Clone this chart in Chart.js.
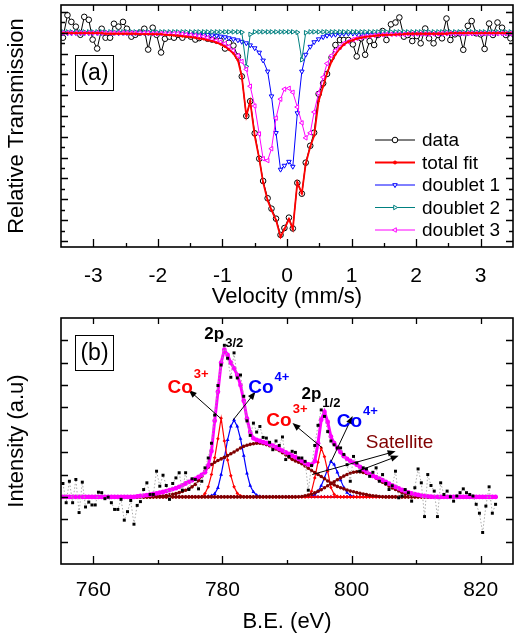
<!DOCTYPE html>
<html>
<head>
<meta charset="utf-8">
<script src="https://cdn.jsdelivr.net/npm/chart.js@4"></script>
<style>
  html, body { margin: 0; padding: 0; background: #fff; }
  #wrap { position: relative; width: 530px; height: 642px; }
  #mossChart { position: absolute; left: 0; top: 0; }
  #xpsChart { position: absolute; left: 0; top: 310px; }
</style>
</head>
<body>
<div id="wrap">
  <canvas id="mossChart" width="530" height="310"></canvas>
  <canvas id="xpsChart" width="530" height="332"></canvas>
</div>
<script>
// ---------- panel (a): Mossbauer spectrum ----------
const velocity = [
  -3.47,-3.40,-3.34,-3.27,-3.20,-3.14,-3.07,-3.01,-2.94,-2.87,
  -2.81,-2.74,-2.68,-2.61,-2.54,-2.48,-2.41,-2.35,-2.28,-2.21,
  -2.15,-2.08,-2.02,-1.95,-1.89,-1.82,-1.75,-1.69,-1.62,-1.56,
  -1.49,-1.42,-1.36,-1.29,-1.23,-1.16,-1.09,-1.03,-0.96,-0.90,
  -0.83,-0.76,-0.70,-0.63,-0.57,-0.50,-0.43,-0.37,-0.30,-0.24,
  -0.17,-0.10,-0.04,0.03,0.09,0.16,0.23,0.29,0.36,0.42,
  0.49,0.56,0.62,0.69,0.75,0.82,0.88,0.95,1.02,1.08,
  1.15,1.21,1.28,1.35,1.41,1.48,1.54,1.61,1.68,1.74,
  1.81,1.87,1.94,2.01,2.07,2.14,2.20,2.27,2.34,2.40,
  2.47,2.53,2.60,2.67,2.73,2.80,2.86,2.93,3.00,3.06,
  3.13,3.19,3.26,3.33,3.39,3.46
];
const transData = [
  0.9976,1.0084,1.0052,1.0029,0.9990,1.0076,1.0062,0.9967,0.9924,1.0019,
  0.9976,0.9976,1.0043,1.0029,1.0052,1.0019,0.9981,0.9990,1.0000,1.0019,
  0.9919,1.0024,0.9990,0.9905,0.9971,0.9981,0.9976,0.9990,0.9976,0.9990,
  0.9981,0.9967,0.9974,0.9986,0.9971,0.9967,0.9962,0.9962,0.9924,0.9952,
  0.9938,0.9886,0.9790,0.9600,0.9671,0.9517,0.9395,0.9288,0.9205,0.9155,
  0.9107,0.9029,0.9062,0.9112,0.9060,0.9279,0.9227,0.9376,0.9457,0.9520,
  0.9706,0.9757,0.9802,0.9881,0.9941,0.9965,0.9965,0.9965,0.9944,0.9886,
  0.9973,0.9894,0.9960,0.9941,0.9989,1.0008,0.9965,1.0040,1.0049,1.0073,
  0.9981,0.9989,0.9960,0.9984,0.9949,1.0020,0.9973,0.9949,0.9989,0.9973,
  1.0068,0.9965,0.9992,0.9997,0.9918,1.0033,1.0056,0.9997,0.9992,0.9922,
  1.0044,0.9989,1.0049,1.0024,0.9989,0.9973
];
const totalFit = [
  0.9998,0.9998,0.9998,0.9998,0.9998,0.9998,0.9998,0.9998,0.9998,0.9998,
  0.9995,0.9995,0.9995,0.9995,0.9995,0.9995,0.9995,0.9995,0.9993,0.9993,
  0.9993,0.9993,0.9993,0.9993,0.9990,0.9989,0.9987,0.9986,0.9983,0.9981,
  0.9979,0.9976,0.9972,0.9969,0.9964,0.9960,0.9952,0.9945,0.9933,0.9919,
  0.9900,0.9867,0.9790,0.9600,0.9671,0.9505,0.9395,0.9281,0.9195,0.9148,
  0.9100,0.9019,0.9057,0.9105,0.9057,0.9281,0.9229,0.9371,0.9452,0.9505,
  0.9671,0.9743,0.9805,0.9862,0.9895,0.9924,0.9943,0.9957,0.9964,0.9971,
  0.9976,0.9980,0.9982,0.9985,0.9987,0.9989,0.9990,0.9990,0.9991,0.9992,
  0.9993,0.9995,0.9995,0.9995,0.9995,0.9995,0.9995,0.9995,0.9995,0.9995,
  0.9995,0.9998,0.9998,0.9998,0.9998,0.9998,0.9998,0.9998,0.9998,0.9998,
  0.9998,0.9998,0.9998,0.9998,0.9998,0.9998
];
const doublet1 = [
  0.9999,0.9999,0.9999,0.9999,0.9999,0.9999,0.9999,0.9999,0.9999,0.9999,
  0.9999,0.9999,0.9999,0.9999,0.9999,0.9999,0.9999,0.9999,0.9999,0.9999,
  0.9999,0.9999,0.9999,0.9999,0.9999,0.9999,0.9998,0.9998,0.9998,0.9998,
  0.9998,0.9995,0.9994,0.9992,0.9990,0.9988,0.9986,0.9982,0.9979,0.9974,
  0.9969,0.9964,0.9957,0.9950,0.9940,0.9926,0.9905,0.9867,0.9814,0.9695,
  0.9519,0.9343,0.9362,0.9381,0.9357,0.9614,0.9814,0.9895,0.9933,0.9955,
  0.9969,0.9979,0.9986,0.9989,0.9991,0.9993,0.9995,0.9996,0.9996,0.9996,
  0.9996,0.9996,0.9996,0.9996,0.9996,0.9996,0.9998,0.9998,0.9998,0.9998,
  0.9998,0.9998,0.9998,0.9998,0.9998,0.9998,0.9998,0.9998,0.9998,0.9998,
  0.9998,0.9998,0.9998,0.9998,0.9998,0.9998,0.9998,0.9998,0.9998,0.9998,
  0.9998,0.9998,0.9998,0.9998,0.9998,0.9998
];
const doublet2 = [
  1.0004,1.0004,1.0004,1.0004,1.0004,1.0004,1.0004,1.0004,1.0004,1.0004,
  1.0004,1.0004,1.0004,1.0004,1.0004,1.0004,1.0004,1.0004,1.0004,1.0004,
  1.0004,1.0004,1.0004,1.0004,1.0004,1.0004,1.0004,1.0004,1.0004,1.0004,
  1.0004,1.0004,1.0004,1.0004,1.0004,1.0004,1.0004,1.0004,1.0004,1.0004,
  1.0004,1.0004,1.0002,0.9838,0.9992,1.0004,1.0004,1.0004,1.0004,1.0004,
  1.0004,1.0004,1.0004,1.0004,1.0004,1.0002,0.9870,1.0000,1.0004,1.0004,
  1.0004,1.0004,1.0004,1.0004,1.0004,1.0004,1.0004,1.0004,1.0004,1.0004,
  1.0004,1.0004,1.0004,1.0004,1.0004,1.0004,1.0004,1.0004,1.0004,1.0004,
  1.0004,1.0004,1.0004,1.0004,1.0004,1.0004,1.0004,1.0004,1.0004,1.0004,
  1.0004,1.0004,1.0004,1.0004,1.0004,1.0004,1.0004,1.0004,1.0004,1.0004,
  1.0004,1.0004,1.0004,1.0004,1.0004,1.0004
];
const doublet3 = [
  0.9999,0.9999,0.9999,0.9999,0.9999,0.9999,0.9999,0.9999,0.9999,0.9999,
  0.9999,0.9999,0.9999,0.9999,0.9999,0.9999,0.9999,0.9999,0.9999,0.9999,
  0.9999,0.9996,0.9996,0.9996,0.9996,0.9996,0.9996,0.9996,0.9994,0.9991,
  0.9989,0.9987,0.9984,0.9981,0.9976,0.9969,0.9962,0.9955,0.9948,0.9933,
  0.9914,0.9890,0.9862,0.9824,0.9743,0.9648,0.9514,0.9395,0.9386,0.9443,
  0.9590,0.9681,0.9729,0.9733,0.9714,0.9643,0.9567,0.9495,0.9519,0.9619,
  0.9710,0.9786,0.9852,0.9890,0.9914,0.9931,0.9948,0.9957,0.9967,0.9973,
  0.9977,0.9981,0.9984,0.9987,0.9989,0.9990,0.9992,0.9992,0.9992,0.9992,
  0.9992,0.9994,0.9994,0.9994,0.9994,0.9994,0.9994,0.9994,0.9994,0.9996,
  0.9996,0.9996,0.9996,0.9996,0.9996,0.9996,0.9996,0.9996,0.9996,0.9996,
  0.9996,0.9996,0.9996,0.9996,0.9996,0.9996
];
const velTicks = [-3.5, -3, -2.5, -2, -1.5, -1, -0.5, 0, 0.5, 1, 1.5, 2, 2.5, 3, 3.5];

// ---------- panel (b): Co 2p XPS ----------
const bindingEnergy = [
  755.3,755.8,756.3,756.8,757.3,757.8,758.3,758.8,759.3,759.8,
  760.3,760.8,761.3,761.8,762.3,762.8,763.3,763.8,764.3,764.8,
  765.3,765.8,766.3,766.8,767.3,767.8,768.3,768.8,769.3,769.8,
  770.3,770.8,771.3,771.8,772.3,772.8,773.3,773.8,774.3,774.8,
  775.3,775.8,776.3,776.8,777.3,777.8,778.3,778.8,779.3,779.8,
  780.3,780.8,781.3,781.8,782.3,782.8,783.3,783.8,784.3,784.8,
  785.3,785.8,786.3,786.8,787.3,787.8,788.3,788.8,789.3,789.8,
  790.3,790.8,791.3,791.8,792.3,792.8,793.3,793.8,794.3,794.8,
  795.3,795.8,796.3,796.8,797.3,797.8,798.3,798.8,799.3,799.8,
  800.3,800.8,801.3,801.8,802.3,802.8,803.3,803.8,804.3,804.8,
  805.3,805.8,806.3,806.8,807.3,807.8,808.3,808.8,809.3,809.8,
  810.3,810.8,811.3,811.8,812.3,812.8,813.3,813.8,814.3,814.8,
  815.3,815.8,816.3,816.8,817.3,817.8,818.3,818.8,819.3,819.8,
  820.3,820.8,821.3,821.8,822.3
];
const intensity = [
  0.60,-0.26,0.70,-0.26,0.78,-0.70,0.66,-0.45,-0.23,-0.36,
  -0.36,0.21,0.19,-0.08,-0.01,-0.26,-0.56,-0.56,-0.11,-1.04,
  -0.66,-0.16,-1.22,-0.38,-0.21,0.33,0.63,0.11,0.11,1.15,
  0.48,0.97,0.51,-0.11,0.60,0.85,1.08,0.30,1.08,0.33,
  0.81,0.78,0.36,0.70,1.30,1.74,2.40,3.66,4.98,5.90,
  6.78,6.20,5.35,6.44,5.32,5.45,4.50,3.40,2.75,3.30,
  2.90,3.15,2.66,2.63,2.44,2.11,2.50,2.30,2.68,1.67,
  1.81,2.04,1.99,1.74,1.74,1.59,0.30,1.40,2.30,3.20,
  3.89,3.60,2.92,2.50,2.33,2.19,2.19,1.90,1.44,0.70,
  1.81,1.52,1.15,1.30,1.25,0.92,1.10,1.30,0.70,1.00,
  0.60,0.33,0.50,1.15,-0.04,0.04,0.33,0.19,-0.19,0.41,
  1.25,0.63,-0.88,1.00,0.51,0.26,-0.88,0.63,0.11,0.26,
  0.01,-0.19,0.04,0.19,0.36,0.19,0.11,0.04,-0.33,-0.73,
  -1.59,-0.41,0.45,-0.73,-0.33
];
const envelope = [
  0,0,0,0,0,0,0,0,0,0,
  0,0,0,0,0,0,0,0,0,0,
  0,0,0,0.02,0.04,0.06,0.08,0.10,0.13,0.16,
  0.19,0.22,0.26,0.30,0.35,0.39,0.45,0.52,0.60,0.67,
  0.74,0.81,0.89,0.98,1.10,1.40,2.05,3.40,4.70,6.00,
  6.58,6.35,6.00,5.75,5.45,5.00,4.30,3.50,2.90,2.62,
  2.55,2.50,2.45,2.41,2.35,2.29,2.22,2.14,2.07,1.99,
  1.92,1.85,1.78,1.70,1.61,1.51,1.45,1.44,1.60,2.40,
  3.45,3.80,3.35,2.70,2.40,2.19,2.00,1.82,1.70,1.61,
  1.53,1.44,1.34,1.23,1.12,1.02,0.94,0.88,0.82,0.75,
  0.67,0.59,0.52,0.45,0.38,0.31,0.25,0.20,0.16,0.12,
  0.09,0.06,0.04,0.02,0.01,0,0,0,0,0,
  0,0,0,0,0,0,0,0,0,0,
  0,0,0,0,0
];
// fitted components: first energy on the 0.5 eV grid, then the values
const co3p32Start = 776.8;
const co3p32 = [0.01,0.15,0.45,1.00,1.75,2.60,3.52,2.50,1.65,0.95,0.45,0.16,0.05,0.01];
const co4p32Start = 777.8;
const co4p32 = [0.02,0.05,0.14,0.40,1.00,1.75,2.55,3.15,3.44,3.15,2.60,1.85,1.05,0.50,0.22,0.08,0.02];
const co3p12Start = 793.3;
const co3p12 = [0.03,0.25,0.85,1.55,2.19,1.80,1.15,0.42,0.12,0.03];
const co4p12Start = 793.8;
const co4p12 = [0.03,0.10,0.25,0.50,0.85,1.25,1.59,1.45,1.10,0.75,0.42,0.19,0.07,0.02];
const sat1Start = 769.3;
const sat1 = [
  0.01,0.02,0.02,0.04,0.06,0.09,0.12,0.15,0.19,0.24,
  0.30,0.37,0.45,0.56,0.73,0.92,1.15,1.33,1.45,1.55,
  1.63,1.70,1.77,1.85,1.93,2.01,2.10,2.19,2.26,2.31,
  2.35,2.38,2.40,2.40,2.38,2.34,2.29,2.22,2.14,2.07,
  1.98,1.88,1.78,1.68,1.61,1.55,1.48,1.38,1.28,1.18,
  1.09,1.00,0.91,0.81,0.71,0.62,0.54,0.47,0.41,0.36,
  0.31,0.26,0.23,0.19,0.16,0.13,0.10,0.07,0.05,0.04,
  0.02,0.01
];
const sat2Start = 791.8;
const sat2 = [
  0.01,0.02,0.05,0.08,0.12,0.18,0.25,0.32,0.41,0.50,
  0.59,0.68,0.77,0.85,0.93,1.00,1.06,1.10,1.12,1.12,
  1.09,1.05,0.99,0.92,0.84,0.75,0.66,0.57,0.48,0.40,
  0.33,0.26,0.20,0.15,0.11,0.08,0.05,0.03,0.02,0.01
];
const beTicks = [760, 770, 780, 790, 800, 810, 820];

// annotations of panel (b), in data units
const xpsLabels = [
  { be: 777.2, val: 7.04, text: '2p', small: '3/2', dy: 8, color: '#000', size: 17 },
  { be: 771.5, val: 4.64, text: 'Co', small: '3+', dy: -15, color: '#ff0000', size: 19 },
  { be: 784.0, val: 4.64, text: 'Co', small: '4+', dy: -12, color: '#0000ff', size: 19 },
  { be: 786.8, val: 3.18, text: 'Co', small: '3+', dy: -13, color: '#ff0000', size: 19 },
  { be: 792.25, val: 4.38, text: '2p', small: '1/2', dy: 8, color: '#000', size: 17 },
  { be: 797.7, val: 3.13, text: 'Co', small: '4+', dy: -12, color: '#0000ff', size: 19 },
  { be: 802.2, val: 2.2, text: 'Satellite', small: '', dy: 0, color: '#800000', size: 19, normal: true }
];
const xpsArrows = [
  [779.69, 3.52, 774.78, 4.78],
  [781.66, 3.44, 785.12, 4.70],
  [795.46, 2.19, 790.85, 3.30],
  [796.85, 1.59, 800.16, 3.62],
  [793.91, 1.00, 806.82, 2.04],
  [800.78, 1.13, 807.29, 1.84]
];

const FONT = 'Arial, "Liberation Sans", sans-serif';
Chart.defaults.font.family = FONT;
Chart.defaults.color = '#000';
Chart.defaults.animation = false;

const pts = (xs, ys) => xs.map((x, i) => ({ x: x, y: ys[i] }));
function onGrid(start, vals) {
  return bindingEnergy.map(e => {
    const i = Math.round((e - start) / 0.5);
    return i >= 0 && i < vals.length ? vals[i] : 0;
  });
}

// frame with inward ticks on all four sides
function frame(opts) {
  return {
    id: 'frame',
    afterDatasetsDraw(chart) {
      const { ctx, chartArea: a, scales: { x, y } } = chart;
      ctx.save();
      ctx.strokeStyle = '#000';
      ctx.lineWidth = 1.3;
      ctx.beginPath();
      x.ticks.forEach(t => {
        const p = Math.round(x.getPixelForValue(t.value)) + 0.5;
        if (p <= a.left + 2 || p >= a.right - 2) return;
        const len = opts.xMajor(t.value) ? 8 : 4;
        ctx.moveTo(p, a.bottom); ctx.lineTo(p, a.bottom - len);
        ctx.moveTo(p, a.top); ctx.lineTo(p, a.top + 6);
      });
      y.ticks.forEach(t => {
        const p = Math.round(y.getPixelForValue(t.value)) + 0.5;
        if (p <= a.top + 2 || p >= a.bottom - 2) return;
        const len = opts.yMajor(t.value) ? 7 : 4;
        ctx.moveTo(a.left, p); ctx.lineTo(a.left + len, p);
        ctx.moveTo(a.right, p); ctx.lineTo(a.right - len, p);
      });
      ctx.stroke();
      ctx.lineWidth = 1.6;
      ctx.strokeRect(a.left, a.top, a.right - a.left, a.bottom - a.top);
      ctx.restore();
      if (opts.extra) opts.extra(chart);
    }
  };
}

function panelTag(ctx, a, text, dy) {
  ctx.save();
  ctx.strokeStyle = '#000';
  ctx.lineWidth = 1;
  ctx.strokeRect(a.left + 14.5, a.top + dy + 0.5, 38, 35);
  ctx.fillStyle = '#000';
  ctx.font = '23px ' + FONT;
  ctx.textAlign = 'center';
  ctx.textBaseline = 'middle';
  ctx.fillText(text, a.left + 33.5, a.top + dy + 19);
  ctx.restore();
}

function arrow(ctx, x1, y1, x2, y2) {
  const ang = Math.atan2(y2 - y1, x2 - x1);
  const L = 8, W = 3.2;
  const c = Math.cos(ang), s = Math.sin(ang);
  ctx.beginPath();
  ctx.moveTo(x1, y1);
  ctx.lineTo(x2 - L * 0.7 * c, y2 - L * 0.7 * s);
  ctx.stroke();
  ctx.beginPath();
  ctx.moveTo(x2, y2);
  ctx.lineTo(x2 - L * c + W * s, y2 - L * s - W * c);
  ctx.lineTo(x2 - L * c - W * s, y2 - L * s + W * c);
  ctx.closePath();
  ctx.fill();
}

// ---------- chart (a) ----------
const mossDatasets = [
  { label: 'data', data: pts(velocity, transData), borderColor: '#000', borderWidth: 1,
    pointStyle: 'circle', pointRadius: 2.8, pointBackgroundColor: '#fff',
    pointBorderColor: '#000', pointBorderWidth: 1, order: 4 },
  { label: 'total fit', data: pts(velocity, totalFit), borderColor: '#ff0000', borderWidth: 1.8,
    pointStyle: 'circle', pointRadius: 0.9, pointBackgroundColor: '#ff0000',
    pointBorderColor: '#ff0000', pointBorderWidth: 1, order: 0 },
  { label: 'doublet 1', data: pts(velocity, doublet1), borderColor: '#0000ff', borderWidth: 1,
    pointStyle: 'triangle', pointRotation: 180, pointRadius: 2.6, pointBackgroundColor: '#fff',
    pointBorderColor: '#0000ff', pointBorderWidth: 1, order: 3 },
  { label: 'doublet 2', data: pts(velocity, doublet2), borderColor: '#008080', borderWidth: 1,
    pointStyle: 'triangle', pointRotation: 90, pointRadius: 2.6, pointBackgroundColor: '#fff',
    pointBorderColor: '#008080', pointBorderWidth: 1, order: 2 },
  { label: 'doublet 3', data: pts(velocity, doublet3), borderColor: '#ff00ff', borderWidth: 1,
    pointStyle: 'triangle', pointRotation: 270, pointRadius: 2.6, pointBackgroundColor: '#fff',
    pointBorderColor: '#ff00ff', pointBorderWidth: 1, order: 1 }
];

function mossLegend(chart) {
  const { ctx, chartArea: a } = chart;
  ctx.save();
  chart.data.datasets.forEach((ds, i) => {
    const y = 140 + i * 22.5;
    const x0 = a.left + 314, x1 = a.left + 354;
    ctx.strokeStyle = ds.borderColor;
    ctx.lineWidth = ds.borderWidth;
    ctx.beginPath(); ctx.moveTo(x0, y); ctx.lineTo(x1, y); ctx.stroke();
    ctx.fillStyle = ds.pointBackgroundColor;
    ctx.strokeStyle = ds.pointBorderColor;
    ctx.lineWidth = 1;
    Chart.helpers.drawPoint(ctx, {
      pointStyle: ds.pointStyle, rotation: ds.pointRotation || 0,
      radius: Math.max(ds.pointRadius, 1.5), borderWidth: 1
    }, (x0 + x1) / 2, y);
    ctx.fillStyle = '#000';
    ctx.font = '19px ' + FONT;
    ctx.textBaseline = 'middle';
    ctx.fillText(ds.label, x1 + 7, y + 1);
  });
  ctx.restore();
  panelTag(ctx, a, '(a)', 50);
}

new Chart(document.getElementById('mossChart'), {
  type: 'line',
  data: { datasets: mossDatasets },
  options: {
    responsive: false,
    events: [],
    layout: { padding: { top: 3, right: 17, left: 0, bottom: 0 } },
    elements: { line: { tension: 0 } },
    plugins: { legend: { display: false }, tooltip: { enabled: false } },
    scales: {
      x: {
        type: 'linear', min: -3.5, max: 3.5,
        afterBuildTicks: s => { s.ticks = velTicks.map(v => ({ value: v })); },
        afterFit: s => { s.height = 63; },
        grid: { display: false, drawTicks: false },
        border: { display: false },
        ticks: { autoSkip: false, maxRotation: 0, padding: 17, font: { size: 21 },
                 callback: v => Number.isInteger(v) ? String(v) : '' },
        title: { display: true, text: 'Velocity (mm/s)', font: { size: 22 }, padding: { top: 0, bottom: 0 } }
      },
      y: {
        type: 'linear', min: 0.8971, max: 1.0133,
        afterFit: s => { s.width = 61; },
        grid: { display: false, drawTicks: false },
        border: { display: false },
        ticks: { display: false, stepSize: 0.005, includeBounds: false },
        title: { display: true, text: 'Relative Transmission', font: { size: 22 }, padding: { top: 4, bottom: 0 } }
      }
    }
  },
  plugins: [frame({
    xMajor: v => Number.isInteger(v),
    yMajor: v => Math.abs(v * 100 - Math.round(v * 100)) < 1e-6,
    extra: mossLegend
  })]
});

// ---------- chart (b) ----------
const xpsDatasets = [
  { label: 'raw', data: pts(bindingEnergy, intensity), borderColor: '#aaaaaa', borderWidth: 1,
    borderDash: [1.5, 2], pointStyle: 'rect', pointRadius: 2.1, pointBackgroundColor: '#000',
    pointBorderColor: '#000', pointBorderWidth: 0, order: 0 },
  { label: 'envelope', data: pts(bindingEnergy, envelope), borderColor: '#ff00ff', borderWidth: 3,
    pointStyle: 'circle', pointRadius: 2.4, pointBackgroundColor: '#ff00ff',
    pointBorderColor: '#ff00ff', pointBorderWidth: 0, order: 1 },
  { label: 'sat 2p3/2', data: pts(bindingEnergy, onGrid(sat1Start, sat1)), borderColor: '#800000',
    borderWidth: 1.3, pointStyle: 'circle', pointRadius: 1.8, pointBackgroundColor: '#800000',
    pointBorderColor: '#800000', pointBorderWidth: 0, order: 2 },
  { label: 'sat 2p1/2', data: pts(bindingEnergy, onGrid(sat2Start, sat2)), borderColor: '#800000',
    borderWidth: 1.3, pointStyle: 'circle', pointRadius: 1.8, pointBackgroundColor: '#800000',
    pointBorderColor: '#800000', pointBorderWidth: 0, order: 3 },
  { label: 'Co3+ 2p3/2', data: pts(bindingEnergy, onGrid(co3p32Start, co3p32)), borderColor: '#ff0000',
    borderWidth: 1.2, pointStyle: 'rectRot', pointRadius: 1.8, pointBackgroundColor: '#ff0000',
    pointBorderColor: '#ff0000', pointBorderWidth: 0, order: 4 },
  { label: 'Co3+ 2p1/2', data: pts(bindingEnergy, onGrid(co3p12Start, co3p12)), borderColor: '#ff0000',
    borderWidth: 1.2, pointStyle: 'rectRot', pointRadius: 1.8, pointBackgroundColor: '#ff0000',
    pointBorderColor: '#ff0000', pointBorderWidth: 0, order: 5 },
  { label: 'Co4+ 2p3/2', data: pts(bindingEnergy, onGrid(co4p32Start, co4p32)), borderColor: '#0000ff',
    borderWidth: 1.2, pointStyle: 'triangle', pointRadius: 2.2, pointBackgroundColor: '#0000ff',
    pointBorderColor: '#0000ff', pointBorderWidth: 0, order: 6 },
  { label: 'Co4+ 2p1/2', data: pts(bindingEnergy, onGrid(co4p12Start, co4p12)), borderColor: '#0000ff',
    borderWidth: 1.2, pointStyle: 'triangle', pointRadius: 2.2, pointBackgroundColor: '#0000ff',
    pointBorderColor: '#0000ff', pointBorderWidth: 0, order: 7 }
];

function xpsNotes(chart) {
  const { ctx, chartArea: a, scales: { x, y } } = chart;
  ctx.save();
  ctx.strokeStyle = '#000';
  ctx.fillStyle = '#000';
  ctx.lineWidth = 1;
  xpsArrows.forEach(([b1, v1, b2, v2]) => {
    arrow(ctx, x.getPixelForValue(b1), y.getPixelForValue(v1), x.getPixelForValue(b2), y.getPixelForValue(v2));
  });
  ctx.textBaseline = 'alphabetic';
  xpsLabels.forEach(l => {
    const px = x.getPixelForValue(l.be), py = y.getPixelForValue(l.val);
    ctx.fillStyle = l.color;
    ctx.font = (l.normal ? '' : 'bold ') + l.size + 'px ' + FONT;
    ctx.fillText(l.text, px, py);
    if (l.small) {
      const w = ctx.measureText(l.text).width;
      ctx.font = 'bold 13px ' + FONT;
      ctx.fillText(l.small, px + w + 1, py + l.dy);
    }
  });
  ctx.restore();
  panelTag(ctx, a, '(b)', 17);
}

new Chart(document.getElementById('xpsChart'), {
  type: 'line',
  data: { datasets: xpsDatasets },
  options: {
    responsive: false,
    events: [],
    layout: { padding: { top: 8, right: 17, left: 0, bottom: 0 } },
    elements: { line: { tension: 0 } },
    plugins: { legend: { display: false }, tooltip: { enabled: false } },
    scales: {
      x: {
        type: 'linear', min: 755, max: 825,
        afterBuildTicks: s => { s.ticks = beTicks.map(v => ({ value: v })); },
        afterFit: s => { s.height = 78; },
        grid: { display: false, drawTicks: false },
        border: { display: false },
        ticks: { autoSkip: false, maxRotation: 0, padding: 14, font: { size: 21 },
                 callback: v => v % 20 === 0 ? String(v) : '' },
        title: { display: true, text: 'B.E. (eV)', font: { size: 22 }, padding: { top: 0, bottom: 7 } }
      },
      y: {
        type: 'linear', min: -3, max: 8,
        afterFit: s => { s.width = 61; },
        grid: { display: false, drawTicks: false },
        border: { display: false },
        ticks: { display: false, stepSize: 1, includeBounds: false },
        title: { display: true, text: 'Intensity (a.u)', font: { size: 22 }, padding: { top: 4, bottom: 0 } }
      }
    }
  },
  plugins: [frame({
    xMajor: v => v % 20 === 0,
    yMajor: v => true,
    extra: xpsNotes
  })]
});
</script>
</body>
</html>
